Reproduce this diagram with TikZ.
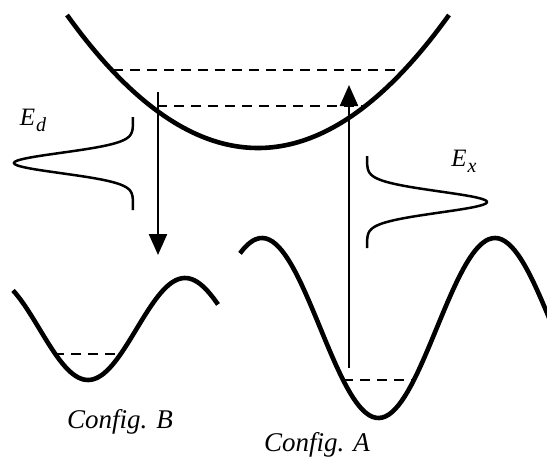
\documentclass[tikz,border=0pt]{standalone}
\usepackage{fontspec}
\setmainfont{Liberation Serif}
\usepackage{tikz}
\usetikzlibrary{arrows.meta}

\tikzset{
  well/.style={line width=4.6pt},
  level/.style={line width=2.3pt, dash pattern=on 10pt off 7pt},
  spectrum/.style={line width=2.5pt},
  transition/.style={line width=2.3pt, -{Triangle[length=21pt,width=18pt]}},
  lbl/.style={font=\fontsize{27}{30}\selectfont\itshape},
  elbl/.style={font=\fontsize{25}{30}\selectfont\itshape}
}

\begin{document}
\begin{tikzpicture}[x=1pt,y=-1pt]
\useasboundingbox (0,0) rectangle (547,458);
%\draw[help lines, step=50] (0,0) grid (547,458);

% excited state
\draw[well] plot[domain=67:449, samples=80] (\x, {148 - 133*((\x-258)/191)^2});
\draw[level] (113,70) -- (403,70);
\draw[level] (157,106) -- (363,106);

% config B
\draw[well] plot[domain=13:218, samples=80] (\x, {329 + 51*cos((\x-88)/194*360)});
\draw[level] (54,354) -- (122,354);

% config A
\draw[well] plot[domain=240:560, samples=100] (\x, {328 - 90*cos((\x-262)/233*360)});
\draw[level] (343,380) -- (413,380);

% line shapes
\draw[spectrum] plot[domain=117:210, samples=90] ({133 - 119*exp(-((\x-163)^2)/206)}, \x);
\draw[spectrum] plot[domain=156:248, samples=90] ({367 + 120*exp(-((\x-202)^2)/222)}, \x);

% transitions
\coordinate (dtop) at (158,92);
\coordinate (dbot) at (158,255);
\coordinate (xbot) at (349,368);
\coordinate (xtop) at (349,85);
\draw[transition] (dtop) -- (dbot);
\draw[transition] (xbot) -- (xtop);

\node[elbl] (Ed) at (33,120) {E\kern1pt\raisebox{-6pt}{\fontsize{20}{20}\selectfont d}};
\node[elbl] (Ex) at (464,161) {E\kern1pt\raisebox{-6pt}{\fontsize{20}{20}\selectfont x}};
\node[lbl] (cfgB) at (120,422) {Config. B};
\node[lbl] (cfgA) at (317,445) {Config. A};
\end{tikzpicture}
\end{document}
